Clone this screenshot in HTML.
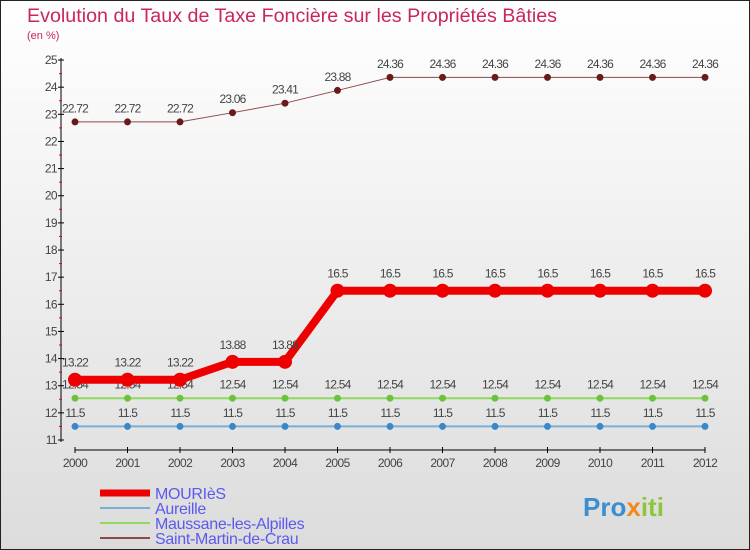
<!DOCTYPE html>
<html><head><meta charset="utf-8"><style>
body{margin:0}
svg{display:block;font-family:"Liberation Sans",sans-serif}
</style></head><body>
<svg id="c" width="750" height="550">
<defs><linearGradient id="bg" x1="0" y1="0" x2="0" y2="1"><stop offset="0" stop-color="#ffffff"/><stop offset="1" stop-color="#dcdcdc"/></linearGradient></defs>
<rect x="0.5" y="0.5" width="749" height="549" fill="url(#bg)" stroke="#222"/>
<text x="27" y="22" font-size="19" fill="#c8275a" textLength="530" lengthAdjust="spacingAndGlyphs">Evolution du Taux de Taxe Foncière sur les Propriétés Bâties</text>
<text x="27" y="39" font-size="11" fill="#c8275a">(en %)</text>
<g id="axes"></g><g id="series"></g><g id="legend"></g>
<text x="583" y="516" font-size="26" font-weight="bold" fill="#3a8fd0">Pro<tspan fill="#f08a1c">x</tspan><tspan fill="#8cc63f">iti</tspan></text>
</svg>
<script>
const years=["2000","2001","2002","2003","2004","2005","2006","2007","2008","2009","2010","2011","2012"];
const mouries=[13.22,13.22,13.22,13.88,13.88,16.5,16.5,16.5,16.5,16.5,16.5,16.5,16.5];
const aureille=[11.5,11.5,11.5,11.5,11.5,11.5,11.5,11.5,11.5,11.5,11.5,11.5,11.5];
const maussane=[12.54,12.54,12.54,12.54,12.54,12.54,12.54,12.54,12.54,12.54,12.54,12.54,12.54];
const stmartin=[22.72,22.72,22.72,23.06,23.41,23.88,24.36,24.36,24.36,24.36,24.36,24.36,24.36];
const yTicks=[11,12,13,14,15,16,17,18,19,20,21,22,23,24,25];
const NS="http://www.w3.org/2000/svg";
const X=i=>75+i*52.5;
const Y=v=>440-(v-11)*27.14;
function el(t,a,p){const e=document.createElementNS(NS,t);for(const k in a)e.setAttribute(k,a[k]);p.appendChild(e);return e;}
const ax=document.getElementById('axes');
let l=el('line',{x1:61,y1:58,x2:61,y2:442,stroke:'#000'},ax);


l=el('line',{x1:75,y1:450,x2:705,y2:450,stroke:'#000'},ax);


yTicks.forEach(v=>{
  el('line',{x1:58,x2:64,y1:Y(v),y2:Y(v),stroke:'#000'},ax);
  if(v<25)el('line',{x1:59,x2:62,y1:Y(v+0.5),y2:Y(v+0.5),stroke:'#e00'},ax);
  const t=el('text',{x:57,y:Y(v)+4,'font-size':12,fill:'#444','text-anchor':'end','letter-spacing':'-0.6'},ax);
  t.textContent=v;
  
  
});
years.forEach((y,i)=>{
  el('line',{x1:X(i),x2:X(i),y1:447,y2:453,stroke:'#000'},ax);
  const t=el('text',{x:X(i),y:467,'font-size':12,fill:'#444','text-anchor':'middle','letter-spacing':'-0.6'},ax);
  t.textContent=y;
  
  
});
const sg=document.getElementById('series');
const defs=[
 {d:aureille,c:'#7aaed6',p:'#3a88c8',w:2,r:3.5,n:'aureille'},
 {d:maussane,c:'#90d860',p:'#6cc23a',w:2,r:3.5,n:'maussane'},
 {d:stmartin,c:'#8b4a4a',p:'#6a1a1a',w:1,r:3.5,n:'saint-martin'},
 {d:mouries,c:'#ee0000',p:'#ee0000',w:8,r:7,n:'mouries'}];
defs.forEach(s=>{
  const pl=el('polyline',{points:s.d.map((v,i)=>X(i)+','+Y(v)).join(' '),fill:'none',stroke:s.c,'stroke-width':s.w},sg);
  
  
  s.d.forEach((v,i)=>{
    const c=el('circle',{cx:X(i),cy:Y(v),r:s.r,fill:s.p},sg);
    
    
    const t=el('text',{x:X(i),y:Y(v)-(s.r+6),'font-size':12,fill:'#444','text-anchor':'middle','letter-spacing':'-0.8'},sg);
    t.textContent=v;
    
    
  });
});
const lg=document.getElementById('legend');
const items=[['MOURIèS','#ee0000',7],['Aureille','#7aaed6',2],['Maussane-les-Alpilles','#90d860',2],['Saint-Martin-de-Crau','#8b4a4a',2]];
items.forEach((it,i)=>{
  const y=493+i*15;
  const ln=el('line',{x1:100,x2:150,y1:y,y2:y,stroke:it[1],'stroke-width':it[2]},lg);
  
  
  const t=el('text',{x:155,y:y+6,'font-size':16,fill:'#5a5aee','letter-spacing':'-0.3'},lg);
  t.textContent=it[0];
  
  
});
</script>
</body></html>
